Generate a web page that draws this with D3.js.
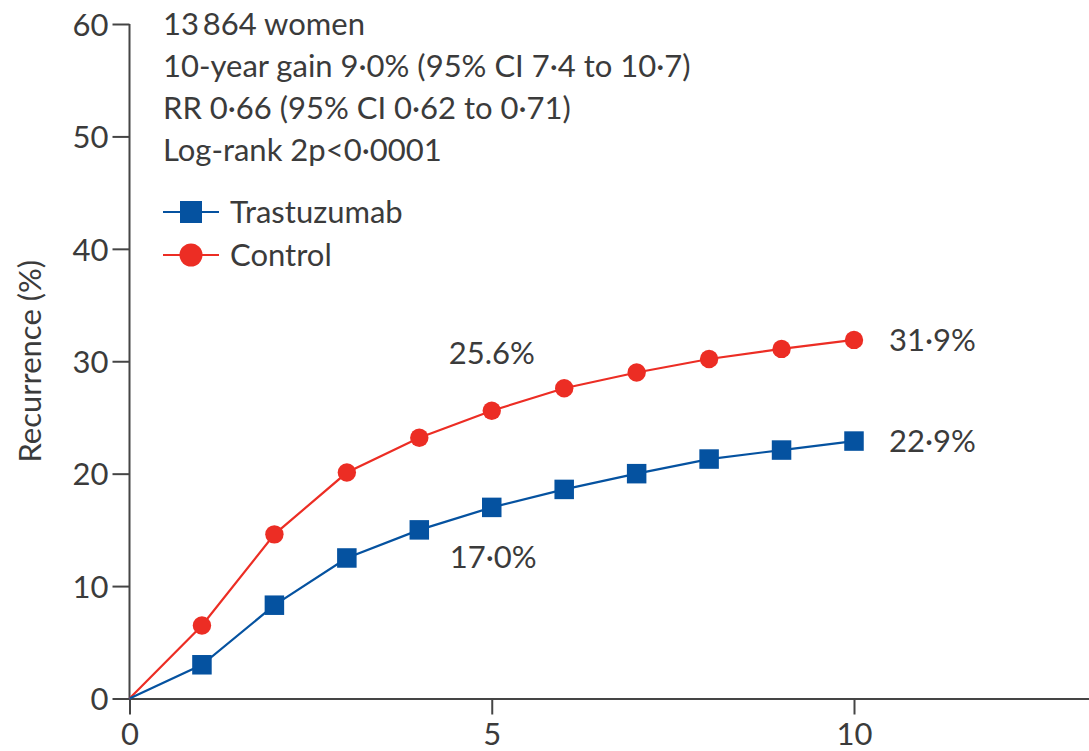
<!DOCTYPE html>
<html>
<head>
<meta charset="utf-8">
<script src="https://cdn.jsdelivr.net/npm/d3@7"></script>
<style>
  html, body { margin: 0; padding: 0; background: #fff; overflow: hidden; }
  svg { display: block; }
  text { font-family: Lato, "Open Sans", sans-serif; fill: #3b3b3b; }
</style>
</head>
<body>
<svg id="chart" width="1089" height="751"></svg>
<script>
// Years since randomisation
const years = [0, 1, 2, 3, 4, 5, 6, 7, 8, 9, 10];
// Cumulative recurrence (%) by arm
const trastuzumab = [0, 3.0, 8.3, 12.5, 15.0, 17.0, 18.6, 20.0, 21.3, 22.1, 22.9];
const control     = [0, 6.5, 14.6, 20.1, 23.2, 25.6, 27.6, 29.0, 30.2, 31.1, 31.9];
const yTicks = [0, 10, 20, 30, 40, 50, 60];
const xTicks = [0, 5, 10];
const statsLines = [
  "13\u2009864 women",
  "10-year gain 9\u00b70% (95% CI 7\u00b74 to 10\u00b77)",
  "RR 0\u00b766 (95% CI 0\u00b762 to 0\u00b771)",
  "Log-rank 2p<0\u00b70001"
];
const seriesNames = ["Trastuzumab", "Control"];
// Point labels: [series, year, text]
const pointLabels = [
  ["control", 5, "25.6%"],
  ["trastuzumab", 5, "17\u00b70%"],
  ["control", 10, "31\u00b79%"],
  ["trastuzumab", 10, "22\u00b79%"]
];

const BLUE = "#0552a0", RED = "#ec2d24", AXIS = "#454545";
const FS = 31;
const svg = d3.select("#chart");

const x = d3.scaleLinear().domain([0, 10]).range([129.5, 854]);
const y = d3.scaleLinear().domain([0, 60]).range([698.5, 24]);
const xMax = x.invert(1089);

// Axes
const yAxis = svg.append("g").attr("transform", `translate(${x(0)},0)`)
  .call(d3.axisLeft(y).tickValues(yTicks).tickSize(17).tickPadding(4).tickSizeOuter(0));
const xAxis = svg.append("g").attr("transform", `translate(0,${y(0)})`)
  .call(d3.axisBottom(d3.scaleLinear().domain([0, xMax]).range([x(0), 1089]))
    .tickValues(xTicks).tickSize(16).tickPadding(8).tickSizeOuter(0));
[yAxis, xAxis].forEach(g => {
  g.selectAll("path, line").attr("stroke", AXIS).attr("stroke-width", 2);
  g.selectAll("text").attr("font-size", FS).attr("fill", "#3b3b3b")
    .style("font-family", "Lato, 'Open Sans', sans-serif");
});
// y axis runs only up to the 60 tick
yAxis.select(".domain").attr("d", `M0,${y(0)}V${y(60)}`);
yAxis.selectAll("text").attr("dy", "0.36em");
// x tick labels sit on a fixed baseline just under the ticks
xAxis.selectAll("text").attr("y", 46).attr("dy", 0);

// Y axis title
svg.append("text")
  .attr("transform", `translate(41,${(y(0) + y(60)) / 2}) rotate(-90)`)
  .attr("text-anchor", "middle")
  .attr("font-size", FS)
  .text("Recurrence (%)");

// Lines
const line = d3.line().x((d, i) => x(years[i])).y(d => y(d));
svg.append("path").datum(control).attr("d", line)
  .attr("fill", "none").attr("stroke", RED).attr("stroke-width", 2.2);
svg.append("path").datum(trastuzumab).attr("d", line)
  .attr("fill", "none").attr("stroke", BLUE).attr("stroke-width", 2.2);

// Markers (skip the origin)
const S = 19.5, R = 9.2;
svg.append("g").selectAll("rect")
  .data(trastuzumab.map((v, i) => [years[i], v]).filter(d => d[0] > 0))
  .join("rect")
  .attr("x", d => x(d[0]) - S / 2).attr("y", d => y(d[1]) - S / 2)
  .attr("width", S).attr("height", S).attr("fill", BLUE);
svg.append("g").selectAll("circle")
  .data(control.map((v, i) => [years[i], v]).filter(d => d[0] > 0))
  .join("circle")
  .attr("cx", d => x(d[0])).attr("cy", d => y(d[1])).attr("r", R).attr("fill", RED);

// Summary statistics
svg.append("g").selectAll("text").data(statsLines).join("text")
  .attr("x", 163).attr("y", (d, i) => 35 + i * 42)
  .attr("font-size", FS).text(d => d);

// Legend
const LS = 22, LR = 11.5;
const legend = svg.append("g");
[[seriesNames[0], BLUE, "square", 212], [seriesNames[1], RED, "circle", 255]].forEach(([name, col, shape, ly]) => {
  legend.append("line").attr("x1", 163).attr("x2", 219).attr("y1", ly).attr("y2", ly)
    .attr("stroke", col).attr("stroke-width", 2.2);
  if (shape === "square") {
    legend.append("rect").attr("x", 191 - LS / 2).attr("y", ly - LS / 2)
      .attr("width", LS).attr("height", LS).attr("fill", col);
  } else {
    legend.append("circle").attr("cx", 191).attr("cy", ly).attr("r", LR).attr("fill", col);
  }
  legend.append("text").attr("x", 230).attr("y", ly + 10.5).attr("font-size", FS).text(name);
});

// Value labels
const seriesData = { control, trastuzumab };
const labelOffset = {
  "control-5": [-43, -47],
  "trastuzumab-5": [-42, 61],
  "control-10": [35, 11],
  "trastuzumab-10": [35, 11]
};
pointLabels.forEach(([s, yr, txt]) => {
  const [dx, dy] = labelOffset[`${s}-${yr}`];
  svg.append("text")
    .attr("x", x(yr) + dx).attr("y", y(seriesData[s][years.indexOf(yr)]) + dy)
    .attr("font-size", FS).text(txt);
});
</script>
</body>
</html>
